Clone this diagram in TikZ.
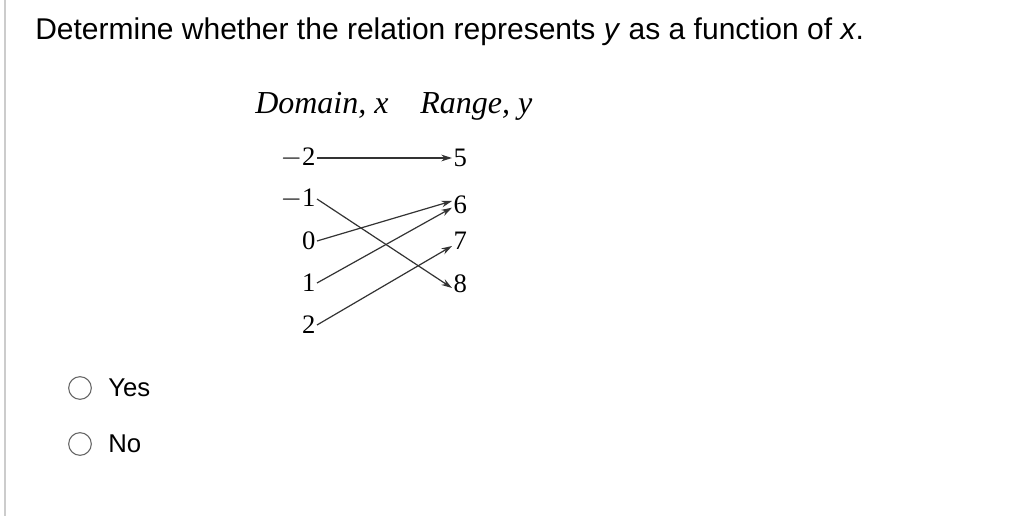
\documentclass[tikz,border=0pt]{standalone}
\usepackage{fontspec}
\usetikzlibrary{arrows.meta}
\setmainfont{Liberation Serif}
\newfontfamily\arial{Liberation Sans}
\begin{document}
\begin{tikzpicture}[x=0.75pt,y=-0.75pt,
  num/.style={font=\fontsize{20}{20}\selectfont, inner sep=1pt},
  hd/.style={font=\fontsize{24}{24}\selectfont\itshape, anchor=base west, inner sep=0},
  q/.style={font=\arial\fontsize{22.5}{22.5}\selectfont, anchor=base west, inner sep=0},
  opt/.style={font=\arial\fontsize{19.3}{19.3}\selectfont, anchor=west, inner sep=0},
  rad/.style={circle, draw=gray!80!black, line width=0.8pt, minimum size=17pt, inner sep=0},
  arr/.style={-{Stealth[length=8pt,width=5pt]}, line width=0.9pt, black!80}]
\useasboundingbox (0,0) rectangle (1032,516);
\fill[white] (0,0) rectangle (1032,516);
\draw[gray!40, line width=1pt] (5,0) -- (5,516);
\node[q] (t) at (35,40) {Determine whether the relation represents \textit{y} as a function of \textit{x}.};
\node[hd] (dh) at (255,114) {Domain, x};
\node[hd] (rh) at (420,114) {Range, y};
\node[num, anchor=east] (a) at (317,158) {$-$2};
\node[num, anchor=east] (b) at (317,199) {$-$1};
\node[num, anchor=east] (c) at (317,241) {0};
\node[num, anchor=east] (d) at (317,283) {1};
\node[num, anchor=east] (e) at (317,325) {2};
\node[num, anchor=west] (r5) at (452,158) {5};
\node[num, anchor=west] (r6) at (452,205) {6};
\node[num, anchor=west] (r7) at (452,241) {7};
\node[num, anchor=west] (r8) at (452,284) {8};
\draw[arr] (a.east) -- (r5.west);
\draw[arr] (b.east) -- ([yshift=-3pt]r8.west);
\draw[arr] (c.east) -- ([yshift=3pt]r6.west);
\draw[arr] (d.east) -- ([yshift=-2pt]r6.west);
\draw[arr] (e.east) -- ([yshift=4pt]r7.south west);
\node[rad] (y1) at (80,388) {};
\node[rad] (n1) at (80,444) {};
\node[opt] (yes) at (108,388) {Yes};
\node[opt] (no) at (108,444) {No};
\end{tikzpicture}
\end{document}
